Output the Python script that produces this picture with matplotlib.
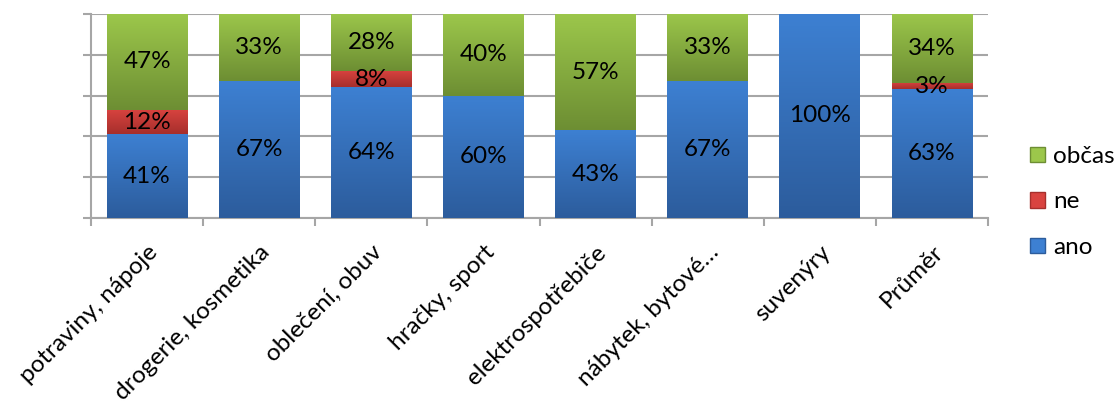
import matplotlib
matplotlib.use("Agg")
import matplotlib.pyplot as plt
import numpy as np
from matplotlib.colors import LinearSegmentedColormap
from matplotlib.patches import Patch

plt.rcParams['font.family'] = ['Lato', 'DejaVu Sans']

categories = ['potraviny, nápoje', 'drogerie, kosmetika', 'oblečení, obuv', 'hračky, sport',
              'elektrospotřebiče', 'nábytek, bytové…', 'suvenýry', 'Průměr']
ano = [41, 67, 64, 60, 43, 67, 100, 63]
ne = [12, 0, 8, 0, 0, 0, 0, 3]
obcas = [47, 33, 28, 40, 57, 33, 0, 34]

series = [('ano', ano, '#2c5c9c', '#3d80d2'),
          ('ne', ne, '#a62f2c', '#d9433f'),
          ('občas', obcas, '#6d8e33', '#9cc74b')]

FS = 17.5

fig = plt.figure(figsize=(11.17, 4.03), dpi=100)
ax = fig.add_axes([91 / 1117, 1 - 218 / 403, (988 - 91) / 1117, (218 - 14) / 403])

x = np.arange(len(categories))
grad = np.linspace(0, 1, 256).reshape(-1, 1)
bottom = np.zeros(len(categories))
for name, vals, c_bot, c_top in series:
    vals = np.array(vals, dtype=float)
    cmap = LinearSegmentedColormap.from_list(name, [c_bot, c_top])
    bars = ax.bar(x, vals, 0.72, bottom=bottom, color=c_top, zorder=2, linewidth=0)
    for rect, v in zip(bars, vals):
        if v <= 0:
            continue
        x0, y0 = rect.get_x(), rect.get_y()
        im = ax.imshow(grad, extent=[x0, x0 + rect.get_width(), y0, y0 + rect.get_height()],
                       origin='lower', aspect='auto', cmap=cmap, zorder=3, interpolation='bilinear')
        im.set_clip_path(rect)
        ax.text(x0 + rect.get_width() / 2, y0 + v / 2, f'{int(v)}%', ha='center', va='center',
                fontsize=FS, color='black', zorder=5)
    bottom += vals

ax.set_xlim(-0.5, len(categories) - 0.5)
ax.set_ylim(0, 100)

ax.set_yticks(np.arange(0, 101, 20))
ax.set_yticklabels([])
ax.grid(axis='y', color='#a6a6a6', linewidth=1.5, zorder=0)
ax.set_axisbelow(True)

ax.set_xticks(x)
ax.set_xticklabels(categories, rotation=45, ha='right', rotation_mode='anchor', fontsize=FS)
ax.set_xticks(np.arange(-0.5, len(categories)), minor=True)
ax.tick_params(axis='x', which='major', length=0, pad=17)
ax.tick_params(axis='x', which='minor', length=6, width=1.5, color='#a6a6a6', direction='out')
ax.tick_params(axis='y', length=6, width=1.5, color='#a6a6a6', direction='out')

for s in ['top', 'right']:
    ax.spines[s].set_visible(False)
for s in ['left', 'bottom']:
    ax.spines[s].set_color('#a6a6a6')
    ax.spines[s].set_linewidth(1.5)

handles = [Patch(facecolor=c_top, edgecolor=c_bot, label=name) for name, _, c_bot, c_top in series[::-1]]
fig.legend(handles=handles, loc='center left', bbox_to_anchor=(1030 / 1117, 1 - 202 / 403),
           frameon=False, fontsize=FS, handlelength=0.6, handleheight=0.6,
           handletextpad=0.35, labelspacing=1.0, borderpad=0, borderaxespad=0)

fig.savefig('out.png', dpi=100)
